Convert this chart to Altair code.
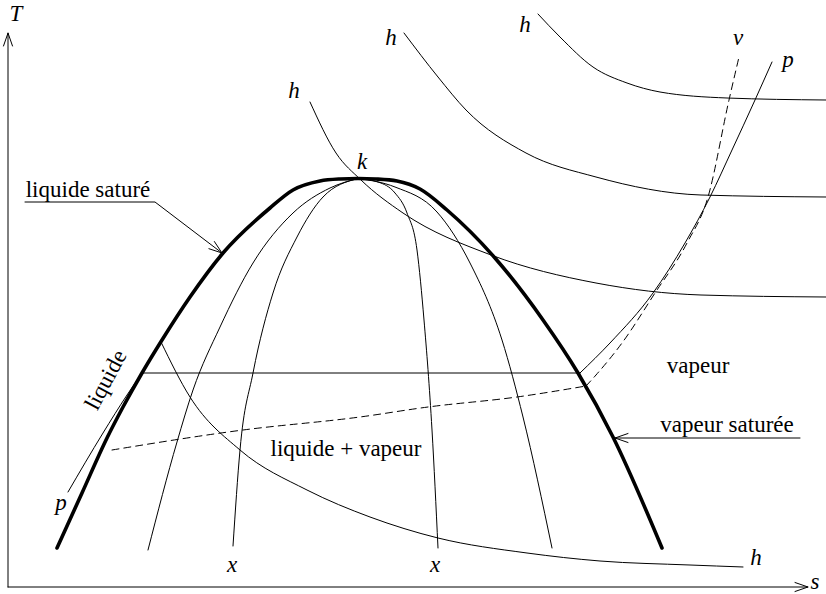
import math
import altair as alt
import pandas as pd

W, H = 826, 594

# ---- curves of the T-s diagram (s grows to the right, t is measured down from the top edge) ----
dome_s = [57, 82, 107, 123, 142, 162, 190, 223, 270, 293, 320, 340, 358, 376, 397, 420, 447, 495, 543, 578, 613, 662]
dome_t = [548, 493, 438, 407, 373, 340, 297, 253, 208, 190, 181, 179, 178.5, 179, 181, 189, 210, 258, 320, 373, 437, 548]

# lines of constant quality x, all meeting at the critical point k
x1_s = [148, 177, 193, 220, 253, 293, 330, 358]
x1_t = [550, 442, 390, 327, 263, 213, 188, 178.5]
x2_s = [233, 240, 253, 273, 297, 323, 358]
x2_t = [546, 450, 373, 293, 237, 197, 178.5]
x3_s = [438, 432, 424, 417, 407, 395, 378, 358]
x3_t = [548, 430, 320, 250, 213, 193, 182, 178.5]
x4_s = [552, 523, 502, 470, 437, 395, 358]
x4_t = [548, 417, 340, 263, 212, 187, 178.5]

# isobar p: liquid branch, plateau, vapour branch
pl_s = [68, 103, 127, 142]
pl_t = [492, 433, 395, 373]
pm_s = [142, 580]
pm_t = [373, 373]
pr_s = [580, 610, 653, 685, 710, 732, 755, 772]
pr_t = [373, 343, 293, 243, 197, 150, 100, 62]

# isochore v (dashed)
vl_s = [112, 243, 360, 428, 517, 586]
vl_t = [450, 430, 417, 407, 397, 386]
vr_s = [586, 596, 622, 655, 687, 708, 729, 739]
vr_t = [386, 375, 343, 293, 243, 197, 100, 57]

# isenthalps h
h1_s = [161, 190, 240, 307, 370, 438, 527, 600, 690, 743]
h1_t = [342, 397, 450, 490, 517, 538, 553, 561, 565, 567]
h2_s = [310, 336, 361, 403, 491, 596, 701, 826]
h2_t = [102, 153, 180, 213, 255, 283, 295, 297]
h3_s = [404, 438, 466, 526, 596, 701, 826]
h3_t = [33, 77, 110, 153, 177, 195, 197]
h4_s = [538, 560, 593, 627, 660, 727, 826]
h4_t = [14, 37, 67, 83, 92, 98, 100]

# coordinate axes
axis_v_s = [8, 8]
axis_v_t = [587, 33]
axis_h_s = [8, 808]
axis_h_t = [587, 587]

# annotation leaders: underline + pointer
ls_s = [25, 155, 222]
ls_t = [202, 202, 253]
vs_s = [800, 615]
vs_t = [438, 438]

# text labels
roman_text = ["liquide saturé", "vapeur saturée", "liquide + vapeur", "vapeur"]
roman_s = [88, 727, 346, 698]
roman_t = [197, 432, 456, 373]

sym_text = ["T", "s", "k", "x", "x", "h", "h", "h", "h", "p", "p", "v"]
sym_s = [16, 815, 362, 232, 435, 294, 391, 525, 756, 61, 788, 738]
sym_t = [14, 582, 162, 565, 565, 91, 38, 25, 558, 503, 60, 38]

rot_text = ["liquide"]
rot_s = [106]
rot_t = [380]


def arrow_head(tip, tail, length=13, half=4.5):
    """Open V head at `tip`, for a shaft coming from `tail`."""
    dx, dy = tip[0] - tail[0], tip[1] - tail[1]
    n = math.hypot(dx, dy)
    ux, uy = dx / n, dy / n
    bx, by = tip[0] - ux * length, tip[1] - uy * length
    px, py = -uy * half, ux * half
    return [bx + px, tip[0], bx - px], [by + py, tip[1], by - py]


xs = alt.Scale(domain=[0, W], nice=False, zero=False)
ys = alt.Scale(domain=[H, 0], nice=False, zero=False)


def curve(s, t, width=1.0, interp="monotone", dash=None):
    df = pd.DataFrame({"s": s, "t": t})
    # monotone interpolation runs along s, so feed points in increasing s
    df = df.sort_values("s", kind="stable").reset_index(drop=True) if interp == "monotone" else df
    df["i"] = range(len(df))
    kw = dict(color="black", strokeWidth=width, interpolate=interp,
              strokeCap="round", strokeJoin="round")
    if dash:
        kw["strokeDash"] = dash
    return alt.Chart(df).mark_line(**kw).encode(
        x=alt.X("s:Q", scale=xs, axis=None),
        y=alt.Y("t:Q", scale=ys, axis=None),
        order="i:Q",
    )


layers = [
    curve(x1_s, x1_t), curve(x2_s, x2_t), curve(x3_s, x3_t), curve(x4_s, x4_t),
    curve(pl_s, pl_t), curve(pm_s, pm_t, interp="linear"),
    curve(pr_s, pr_t),
    curve(vl_s, vl_t, dash=[7, 5]), curve(vr_s, vr_t, dash=[7, 5]),
    curve(h1_s, h1_t), curve(h2_s, h2_t), curve(h3_s, h3_t), curve(h4_s, h4_t),
    curve(dome_s, dome_t, width=3.6),
    curve(axis_v_s, axis_v_t, interp="linear"),
    curve(axis_h_s, axis_h_t, interp="linear"),
    curve(ls_s, ls_t, interp="linear"),
    curve(vs_s, vs_t, interp="linear"),
]

# arrow heads on the axes and on the two leaders
for tip, tail in [((axis_v_s[1], axis_v_t[1]), (axis_v_s[0], axis_v_t[0])),
                  ((axis_h_s[1], axis_h_t[1]), (axis_h_s[0], axis_h_t[0])),
                  ((ls_s[2], ls_t[2]), (ls_s[1], ls_t[1])),
                  ((vs_s[1], vs_t[1]), (vs_s[0], vs_t[0]))]:
    hs, ht = arrow_head(tip, tail)
    layers.append(curve(hs, ht, interp="linear"))

roman_df = pd.DataFrame({"s": roman_s, "t": roman_t, "label": roman_text})
layers.append(
    alt.Chart(roman_df).mark_text(font="Liberation Serif", fontSize=23, color="black",
                                  align="center", baseline="alphabetic").encode(
        x=alt.X("s:Q", scale=xs, axis=None), y=alt.Y("t:Q", scale=ys, axis=None),
        text="label:N")
)

sym_df = pd.DataFrame({"s": sym_s, "t": sym_t, "label": sym_text})
layers.append(
    alt.Chart(sym_df).mark_text(font="Liberation Serif", fontSize=23, fontStyle="italic",
                                color="black", align="center", baseline="middle").encode(
        x=alt.X("s:Q", scale=xs, axis=None), y=alt.Y("t:Q", scale=ys, axis=None),
        text="label:N")
)

rot_df = pd.DataFrame({"s": rot_s, "t": rot_t, "label": rot_text})
layers.append(
    alt.Chart(rot_df).mark_text(font="Liberation Serif", fontSize=23, color="black",
                                align="center", baseline="middle", angle=298).encode(
        x=alt.X("s:Q", scale=xs, axis=None), y=alt.Y("t:Q", scale=ys, axis=None),
        text="label:N")
)

chart = alt.layer(*layers).properties(
    width=W, height=H, padding=0, background="white",
    autosize=alt.AutoSizeParams(type="none"),
).configure_view(stroke=None)

chart.save("out.html", embed_options={"renderer": "svg", "actions": False})
